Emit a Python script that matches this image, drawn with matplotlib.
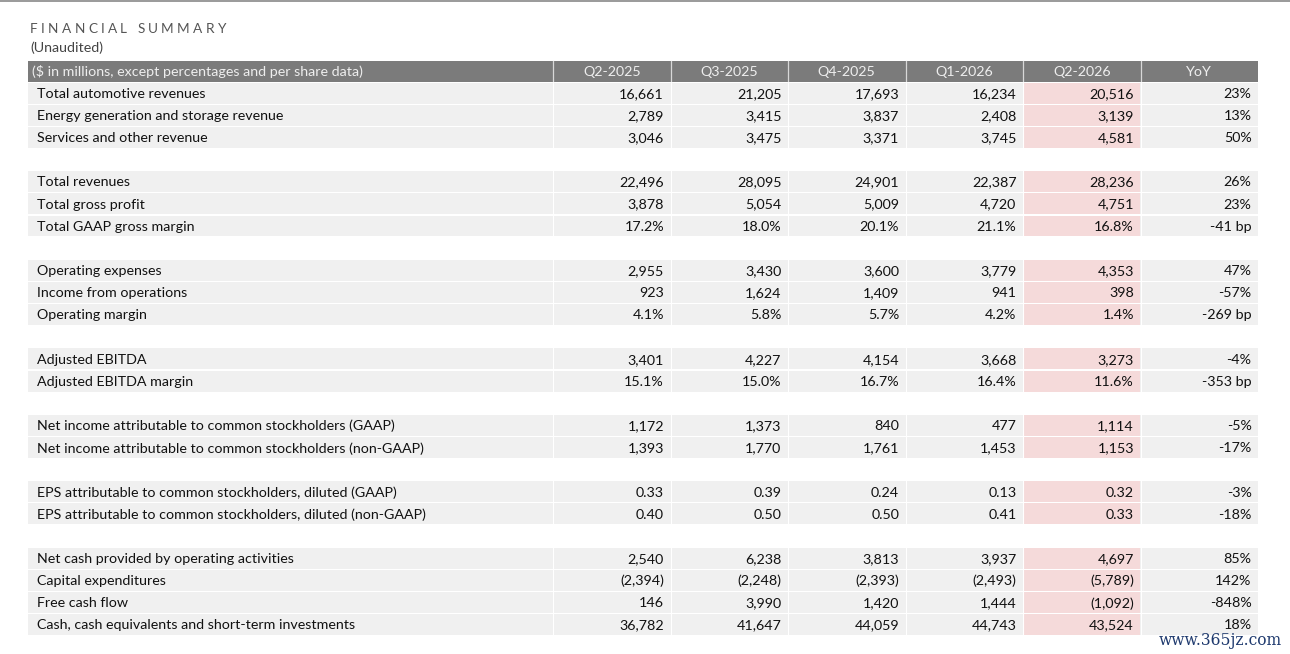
import matplotlib
matplotlib.use("Agg")
import matplotlib.pyplot as plt
from matplotlib.patches import Rectangle
from matplotlib.font_manager import FontProperties, findfont
from matplotlib.ft2font import FT2Font

title = "FINANCIAL SUMMARY"
subtitle = "(Unaudited)"
header_label = "($ in millions, except percentages and per share data)"
periods = ["Q2-2025", "Q3-2025", "Q4-2025", "Q1-2026", "Q2-2026", "YoY"]

row_labels = [
    "Total automotive revenues",
    "Energy generation and storage revenue",
    "Services and other revenue",
    None,
    "Total revenues",
    "Total gross profit",
    "Total GAAP gross margin",
    None,
    "Operating expenses",
    "Income from operations",
    "Operating margin",
    None,
    "Adjusted EBITDA",
    "Adjusted EBITDA margin",
    None,
    "Net income attributable to common stockholders (GAAP)",
    "Net income attributable to common stockholders (non-GAAP)",
    None,
    "EPS attributable to common stockholders, diluted (GAAP)",
    "EPS attributable to common stockholders, diluted (non-GAAP)",
    None,
    "Net cash provided by operating activities",
    "Capital expenditures",
    "Free cash flow",
    "Cash, cash equivalents and short-term investments",
]

q2_2025 = ["16,661", "2,789", "3,046", None, "22,496", "3,878", "17.2%", None,
           "2,955", "923", "4.1%", None, "3,401", "15.1%", None, "1,172", "1,393", None,
           "0.33", "0.40", None, "2,540", "(2,394)", "146", "36,782"]
q3_2025 = ["21,205", "3,415", "3,475", None, "28,095", "5,054", "18.0%", None,
           "3,430", "1,624", "5.8%", None, "4,227", "15.0%", None, "1,373", "1,770", None,
           "0.39", "0.50", None, "6,238", "(2,248)", "3,990", "41,647"]
q4_2025 = ["17,693", "3,837", "3,371", None, "24,901", "5,009", "20.1%", None,
           "3,600", "1,409", "5.7%", None, "4,154", "16.7%", None, "840", "1,761", None,
           "0.24", "0.50", None, "3,813", "(2,393)", "1,420", "44,059"]
q1_2026 = ["16,234", "2,408", "3,745", None, "22,387", "4,720", "21.1%", None,
           "3,779", "941", "4.2%", None, "3,668", "16.4%", None, "477", "1,453", None,
           "0.13", "0.41", None, "3,937", "(2,493)", "1,444", "44,743"]
q2_2026 = ["20,516", "3,139", "4,581", None, "28,236", "4,751", "16.8%", None,
           "4,353", "398", "1.4%", None, "3,273", "11.6%", None, "1,114", "1,153", None,
           "0.32", "0.33", None, "4,697", "(5,789)", "(1,092)", "43,524"]
yoy = ["23%", "13%", "50%", None, "26%", "23%", "-41 bp", None,
       "47%", "-57%", "-269 bp", None, "-4%", "-353 bp", None, "-5%", "-17%", None,
       "-3%", "-18%", None, "85%", "142%", "-848%", "18%"]

watermark = "www.365jz.com"

columns = [q2_2025, q3_2025, q4_2025, q1_2026, q2_2026, yoy]

W, H = 1290, 654
fig = plt.figure(figsize=(W / 100, H / 100), dpi=100)
ax = fig.add_axes([0, 0, 1, 1])
ax.set_xlim(0, W)
ax.set_ylim(H, 0)
ax.axis("off")

FONT = "Lato"
FS = 10.3
TXT = "#111111"
ROW_BG = "#f0f0f0"
PINK = "#f5dada"
HDR_BG = "#7b7b7b"
HDR_TXT = "#eeeeee"

left = 28
col_edges = [553 + i * 117.5 for i in range(7)]
hdr_top = 60.5
row_h = 22.15
hdr_bottom = hdr_top + 21.5

# top rule
ax.plot([0, W], [1.2, 1.2], color="#9a9a9a", lw=1.4)

# title with letter spacing (advance widths from the font)
title_fs = 9.8
fp = FontProperties(family=FONT, size=title_fs)
ft = FT2Font(findfont(fp))
ft.set_size(title_fs, 100)
adv = []
for ch in title:
    g = ft.load_char(ord(ch))
    adv.append(g.linearHoriAdvance / 65536.0)
x_start, x_end = 30, 226
track = (x_end - x_start - sum(adv)) / (len(title) - 1)
tx = x_start
for ch, a in zip(title, adv):
    if ch != " ":
        ax.text(tx, 29, ch, fontsize=title_fs, family=FONT, color="#555555",
                va="center", ha="left")
    tx += a + track
ax.text(30, 47.5, subtitle, fontsize=FS, family=FONT, color="#444444", va="center", ha="left")

# header
ax.add_patch(Rectangle((left, hdr_top), col_edges[-1] - left, hdr_bottom - hdr_top,
                       facecolor=HDR_BG, edgecolor="none"))
for e in col_edges[:-1]:
    ax.plot([e, e], [hdr_top, hdr_bottom], color="#d8d8d8", lw=0.9)
ax.text(32, (hdr_top + hdr_bottom) / 2 + 0.5, header_label, fontsize=FS, family=FONT,
        color=HDR_TXT, va="center", ha="left")
for i, p in enumerate(periods):
    cx = (col_edges[i] + col_edges[i + 1]) / 2
    ax.text(cx, (hdr_top + hdr_bottom) / 2 + 0.5, p, fontsize=FS, family=FONT,
            color=HDR_TXT, va="center", ha="center")

# body
for r, lab in enumerate(row_labels):
    if lab is None:
        continue
    y0 = hdr_bottom + r * row_h
    yc = y0 + row_h / 2 + 0.8
    ax.add_patch(Rectangle((left, y0 + 0.6), col_edges[-1] - left, row_h - 1.2,
                           facecolor=ROW_BG, edgecolor="none"))
    ax.add_patch(Rectangle((col_edges[4] + 0.5, y0 + 0.6), col_edges[5] - col_edges[4] - 1, row_h - 1.2,
                           facecolor=PINK, edgecolor="none"))
    for e in col_edges[:-1]:
        ax.plot([e, e], [y0, y0 + row_h], color="white", lw=0.8)
    ax.text(37, yc, lab, fontsize=FS, family=FONT, color=TXT, va="center", ha="left")
    for c, vals in enumerate(columns):
        v = vals[r]
        if v is None:
            continue
        ax.text(col_edges[c + 1] - 6.5, yc, v, fontsize=FS, family=FONT, color=TXT,
                va="center", ha="right")

ax.text(1282, 640.5, watermark, fontsize=11.2, family="DejaVu Serif", color="#1f3a6e",
        va="center", ha="right")

fig.savefig("out.png", dpi=100)
